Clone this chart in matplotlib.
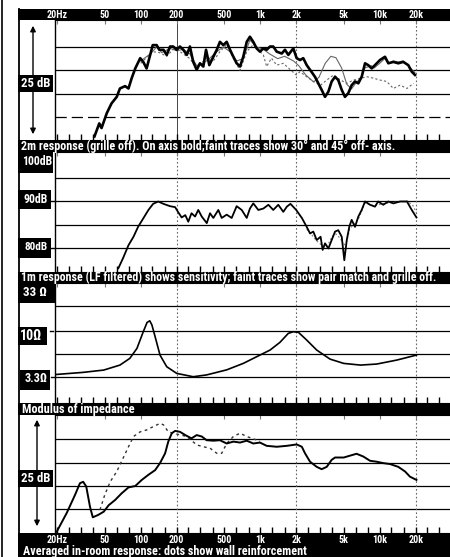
import matplotlib
matplotlib.use("Agg")
import matplotlib.pyplot as plt
from matplotlib.patches import Rectangle, FancyArrowPatch
from matplotlib.lines import Line2D
from matplotlib.ticker import FixedLocator, NullFormatter, NullLocator
import matplotlib.transforms as mtransforms

# ---------------- data ----------------
freq_labels = ['20Hz', '50', '100', '200', '500', '1k', '2k', '5k', '10k', '20k']
freq_label_pos = [20, 50, 100, 200, 500, 1000, 2000, 5000, 10000, 20000]
third_octave = [20, 25, 31.5, 40, 50, 63, 80, 100, 125, 160, 200, 250, 315, 400, 500, 630,
                800, 1000, 1250, 1600, 2000, 2500, 3150, 4000, 5000, 6300, 8000, 10000,
                12500, 16000, 20000, 25000, 31500]

# Panel 1: 2m response, relative dB
p1_on_f = [41, 45, 47, 52, 57, 63, 67, 74, 79, 84, 90, 99, 105, 112, 120, 126, 136, 143, 155, 165,
           176, 187, 200, 213, 227, 243, 258, 275, 294, 313, 334, 352, 375, 405, 433, 460, 491, 524, 559, 596,
           635, 678, 721, 771, 820, 875, 933, 995, 1062, 1132, 1208, 1285, 1374, 1514, 1611, 1718, 1892, 2018, 2152, 2292,
           2449, 2612, 2872, 3062, 3266, 3484, 3716, 3963, 4227, 4498, 4808, 5118, 5458, 5822, 6210, 6622, 7064, 7534, 8018, 8570,
           9120, 10046, 11068, 11804, 13002, 14290, 15740, 17338, 18536, 19726]
p1_on_db = [-19.2, -16.4, -17.4, -14.2, -12.1, -10.7, -8.9, -8.4, -8.9, -6.7, -4.6, -2.4, -3.2, -4.6, -1.7, 0.4, 0.4, -0.6, -0.6, -1.7,
            0.1, 0.1, -0.6, 0.1, -0.6, -1.7, 0.1, -3.2, -4.9, -3.5, -4.2, -0.6, -3.9, -2.1, -0.6, 1.1, 0.4, 1.1, -0.6, -2.1,
            -3.5, -4.2, -2.1, 1.1, 2.2, 1.1, -0.3, -1.0, -0.3, -0.6, 0.1, 0.1, -1.0, -1.4, -0.6, -1.7, -0.3, -2.4, -2.8, -2.4,
            -3.9, -4.9, -6.4, -7.8, -9.2, -10.7, -9.6, -7.4, -6.4, -7.1, -9.2, -10.7, -9.9, -8.2, -7.4, -7.8, -6.4, -3.5, -3.9, -4.6,
            -3.9, -2.8, -2.1, -3.5, -3.2, -3.5, -3.2, -3.9, -5.3, -6.0]
p1_30_f = [100, 120, 136, 150, 176, 200, 227, 258, 294, 334, 375, 433, 491, 559, 635, 721, 820, 933, 1062, 1200,
           1400, 1600, 1900, 2100, 2400, 2800, 3100, 3500, 3900, 4300, 4800, 5300, 5800, 6200, 7000, 7500, 8500, 9000, 10000, 11000,
           12000, 13000, 14300, 15700, 17300, 19700]
p1_30_db = [-3.0, -1.5, 0.0, -1.2, -0.3, -0.8, -0.5, -1.5, -4.0, -3.5, -2.5, -1.0, 0.0, -1.0, -3.0, -2.5, 1.5, 0.0, -0.5, -1.5,
            -2.5, -2.0, -3.0, -4.0, -6.0, -7.5, -6.5, -3.5, -2.0, -2.3, -4.5, -8.0, -9.0, -8.0, -6.5, -4.5, -4.0, -4.5, -3.5, -2.5,
            -3.5, -3.0, -3.2, -3.0, -4.0, -5.5]
p1_45_f = [100, 126, 143, 165, 187, 213, 258, 294, 352, 405, 460, 524, 596, 678, 771, 875, 995, 1062, 1132, 1240,
           1374, 1560, 1790, 2000, 2152, 2449, 2780, 3200, 3600, 4110, 4700, 5300, 6050, 6900, 7850, 8900, 10050, 11450, 13000, 14800,
           16900, 19200]
p1_45_db = [-3.5, -1.0, -1.2, -2.0, -0.5, -1.0, -2.5, -4.5, -2.5, -3.0, -1.0, 0.5, -2.5, -5.0, -1.0, 0.5, -1.0, -1.7, -4.2, -2.4,
            -3.9, -3.5, -4.9, -6.0, -5.3, -6.4, -7.4, -8.2, -7.1, -6.0, -7.1, -7.8, -7.1, -6.7, -6.4, -6.7, -7.1, -7.4, -8.9, -8.2,
            -8.9, -7.8]

# Panel 2: 1m response, dB SPL
p2_f = [65, 71, 79, 87, 95, 105, 116, 127, 140, 155, 176, 194, 205, 220, 236, 250, 266, 285, 303, 324,
        357, 380, 405, 446, 476, 524, 577, 635, 700, 771, 820, 875, 964, 1062, 1170, 1285, 1416, 1560, 1670, 1790,
        2000, 2090, 2230, 2449, 2612, 2780, 2970, 3200, 3330, 3484, 3716, 3963, 4227, 4498, 4808, 5054, 5300, 5560, 5822, 6210,
        6622, 7064, 7534, 8300, 9120, 9700, 10700, 11804, 13000, 14800, 16900, 18536, 20300]
p2_db = [75.7, 77.8, 80.6, 82.4, 84.5, 86.3, 88.1, 89.4, 89.9, 89.4, 88.9, 88.7, 87.7, 86.5, 87.0, 85.6, 87.4, 86.7, 88.1, 86.7,
         85.3, 87.4, 86.4, 88.1, 86.4, 87.1, 86.4, 88.9, 88.1, 86.4, 88.4, 89.5, 88.1, 88.4, 89.2, 88.1, 89.2, 87.7, 88.8, 89.4,
         88.1, 87.4, 86.4, 84.5, 83.1, 83.5, 81.7, 82.4, 79.6, 81.0, 79.9, 81.7, 83.5, 83.8, 82.4, 77.4, 81.7, 84.5, 86.0, 84.5,
         86.7, 88.1, 89.9, 89.2, 88.8, 89.9, 89.2, 89.9, 89.5, 89.9, 89.9, 88.1, 86.5]
p2_faint_f = [2449, 2700, 2970, 3200, 3400, 3700, 4000, 4300, 4700, 5000, 5300, 5600, 6000, 6600, 7500, 9000,
              11000, 14000, 17000, 19000, 20300]
p2_faint_db = [84.0, 82.8, 81.5, 80.8, 80.2, 80.8, 82.5, 83.0, 82.0, 80.5, 81.5, 84.0, 85.0, 86.0, 89.5, 89.0,
               89.5, 89.8, 90.0, 89.0, 87.5]

# Panel 3: impedance modulus, ohms
p3_f = [19.8, 33, 49, 67, 81, 93, 105, 113, 119, 124, 132, 145, 165, 200, 275, 356, 524, 721, 995, 1208,
        1462, 1718, 1892, 2090, 2449, 2970, 3840, 5000, 6900, 9440, 13860, 20300]
p3_z = [3.52, 3.70, 3.91, 4.41, 5.18, 6.59, 9.84, 12.3, 12.8, 11.6, 8.71, 5.61, 4.24, 3.61, 3.33, 3.48, 3.93, 4.59, 5.61, 6.33,
        7.62, 9.46, 9.84, 9.69, 8.05, 6.33, 5.09, 4.59, 4.41, 4.52, 4.97, 5.61]

# Panel 4: averaged in-room response, relative dB
p4_f = [19.8, 24, 28.2, 31, 33, 35, 37.6, 39.7, 44, 49, 54, 61, 69, 79, 90, 102, 116, 132, 145, 160,
        170, 182, 194, 213, 236, 266, 294, 324, 356, 405, 460, 524, 596, 678, 771, 875, 995, 1132, 1374, 1670,
        2018, 2230, 2370, 2612, 2970, 3266, 3600, 3963, 4227, 5000, 5822, 6400, 7300, 8300, 9440, 10700, 12200, 14300, 16300, 17900,
        20300]
p4_db = [-19.8, -15.8, -11.9, -9.4, -9.1, -10.1, -14.4, -16.7, -16.2, -15.5, -14.1, -13.0, -11.6, -10.3, -10.0, -8.7, -7.6, -6.6, -5.1, -3.0,
         -0.5, 1.3, 1.8, 1.6, 0.9, 0.2, 0.9, 0.6, -0.2, -0.3, -0.2, -0.9, -0.5, -0.7, -0.3, -0.9, -0.7, -1.4, -1.6, -1.4,
         -1.1, -1.6, -3.0, -4.8, -5.9, -6.4, -5.9, -4.4, -3.9, -3.9, -3.4, -3.1, -3.7, -4.6, -4.8, -5.1, -5.3, -5.9, -6.9, -8.0,
         -8.7]
p4_wall_f = [45.6, 50, 55.5, 63, 71, 79, 87, 99, 112, 127, 145, 155, 170, 187, 243, 294, 334, 380, 433, 476,
             524, 596, 678, 771, 875, 995]
p4_wall_db = [-15.1, -11.9, -9.1, -6.9, -4.1, -1.6, 0.6, 1.6, 2.0, 2.7, 3.4, 3.1, 1.6, 1.3, 0.6, -1.2, -1.6, -1.9, -3.0, -3.0,
              -0.9, 0.6, 1.3, 0.6, 0.1, -0.4]

captions = ["2m response (grille off). On axis bold;faint traces show 30\u00b0 and 45\u00b0 off- axis.",
            "1m response (LF filtered) shows sensitivity; faint traces show pair match and grille off.",
            "Modulus of impedance",
            "Averaged in-room response: dots show wall reinforcement"]
p1_grid = [0, -5, -10, -15]
p2_grid = [95, 90, 85, 80]
p3_grid = [18.2, 10, 5.75, 3.3]
p4_grid = [0, -5, -10, -15]

# ---------------- layout ----------------
W, H = 450, 557
FAMILY = ['Roboto Condensed', 'Liberation Sans Narrow', 'DejaVu Sans Condensed', 'Roboto', 'DejaVu Sans']
plt.rcParams['font.family'] = FAMILY
fig = plt.figure(figsize=(W / 100, H / 100), dpi=100)
fig.patch.set_facecolor('white')
renderer = fig.canvas.get_renderer()


def fx(x):
    return x / W


def fy(y):
    return 1 - y / H


def rect(x0, y0, x1, y1):
    return [fx(x0), fy(y1), (x1 - x0) / W, (y1 - y0) / H]


def black_box(x0, y0, x1, y1, z=5):
    fig.add_artist(Rectangle((fx(x0), fy(y1)), (x1 - x0) / W, (y1 - y0) / H,
                             transform=fig.transFigure, facecolor='black',
                             edgecolor='none', zorder=z))


def fit(t, width_px):
    for _ in range(2):
        bb = t.get_window_extent(renderer)
        t.set_fontsize(t.get_fontsize() * width_px / bb.width)
    return t


def ftext(x, y, s, size, color='white', ha='left', width=None):
    t = fig.text(fx(x), fy(y), s, fontsize=size, color=color, ha=ha, va='center',
                 fontweight='bold', fontstretch='condensed', zorder=10)
    if width is not None:
        fit(t, width)
    return t


def fline(x0, x1, y, lw=1.0):
    fig.add_artist(Line2D([fx(x0), fx(x1)], [fy(y), fy(y)], transform=fig.transFigure,
                          color='black', lw=lw, zorder=6))


XMIN, XMAX = 19.17, 38730
panel_y = [(20, 140), (152, 272), (283, 403), (415, 533)]
ylims = [(-19.96, 5.79), (74.9, 100.43), (1.77, 31.8), (-20.06, 5.2)]
grids = [p1_grid, p2_grid, p3_grid, p4_grid]
axes = []
for i, (y0, y1) in enumerate(panel_y):
    ax = fig.add_axes(rect(55, y0, 450, y1))
    ax.set_xscale('log')
    if i == 2:
        ax.set_yscale('log')
    ax.set_xlim(XMIN, XMAX)
    ax.set_ylim(*ylims[i])
    ax.yaxis.set_major_locator(NullLocator())
    ax.yaxis.set_minor_locator(NullLocator())
    ax.xaxis.set_major_locator(FixedLocator(third_octave))
    ax.xaxis.set_major_formatter(NullFormatter())
    ax.xaxis.set_minor_locator(FixedLocator(freq_label_pos))
    ax.xaxis.set_minor_formatter(NullFormatter())
    ax.xaxis.remove_overlapping_locs = False
    ax.tick_params(axis='x', which='major', direction='in', length=4, width=1.0,
                   bottom=True, top=False, color='black')
    ax.tick_params(axis='x', which='minor', direction='in', length=3, width=0.8,
                   bottom=False, top=True, color='#777777')
    ax.spines['right'].set_visible(False)
    ax.spines['left'].set_linewidth(1.0)
    for g in grids[i]:
        ls = (0, (9, 4)) if (i == 0 and g == -15) else '-'
        ax.axhline(g, color='black', lw=0.9, ls=ls, zorder=1)
    for v in [200, 2000, 20000]:
        if i == 0 and v == 200:
            ax.axvline(v, color='#444444', lw=0.7, zorder=1)
        else:
            ax.axvline(v, color='#666666', lw=0.8, ls=(0, (1.5, 2)), zorder=1)
    axes.append(ax)

ax1, ax2, ax3, ax4 = axes
ax1.plot(p1_30_f, p1_30_db, color='#666666', lw=0.8, zorder=3)
ax1.plot(p1_45_f, p1_45_db, color='#666666', lw=0.8, ls=(0, (2, 2)), zorder=3)
ax1.plot(p1_on_f, p1_on_db, color='black', lw=1.9, zorder=4)

ax2.plot(p2_faint_f, p2_faint_db, color='#777777', lw=0.8, ls=(0, (1.5, 2)), zorder=3)
ax2.plot(p2_f, p2_db, color='black', lw=1.3, zorder=4)

ax3.plot(p3_f, p3_z, color='black', lw=1.2, zorder=4)

ax4.plot(p4_wall_f, p4_wall_db, color='#333333', lw=1.0, ls=(0, (2, 2.5)), zorder=3)
ax4.plot(p4_f, p4_db, color='black', lw=1.4, zorder=4)

# ---------------- frame decorations ----------------
fig.add_artist(Line2D([fx(1.5), fx(1.5)], [fy(0), fy(557)], transform=fig.transFigure,
                      color='black', lw=1.2))
fig.add_artist(Line2D([fx(18.5), fx(18.5)], [fy(9), fy(557)], transform=fig.transFigure,
                      color='black', lw=1.3))

black_box(18, 9, 450, 20)
black_box(18, 140, 450, 152)
black_box(18, 272, 450, 283)
black_box(18, 403, 450, 415)
black_box(18, 533, 450, 557)

ftext(21, 146.3, captions[0], 7.5, width=376)
ftext(21, 277.6, captions[1], 7.5, width=416)
ftext(22, 409.0, captions[2], 7.5, width=112)
ftext(23, 551, captions[3], 7.5, width=286)

top_tr = mtransforms.blended_transform_factory(ax1.transData, fig.transFigure)
bot_tr = mtransforms.blended_transform_factory(ax4.transData, fig.transFigure)
lab_size = 7.2
for f, lab in zip(freq_label_pos, freq_labels):
    fig.text(f, fy(15), lab, transform=top_tr, fontsize=lab_size, color='white',
             ha='center', va='center', fontweight='bold', fontstretch='condensed', zorder=10)
    fig.text(f, fy(540), lab, transform=bot_tr, fontsize=lab_size, color='white',
             ha='center', va='center', fontweight='bold', fontstretch='condensed', zorder=10)

# arrows in left column
for xa, ya, yb in [(33, 23, 137), (37, 417, 529)]:
    fig.add_artist(FancyArrowPatch((fx(xa), fy(ya)), (fx(xa), fy(yb)),
                                   arrowstyle='<|-|>', mutation_scale=8, lw=1.0,
                                   color='black', transform=fig.transFigure, zorder=4))

# left column labels
black_box(18, 75, 53, 92)
ftext(36, 83.5, '25 dB', 9, ha='center', width=29)
black_box(18, 470, 53, 487)
ftext(36, 478.5, '25 dB', 9, ha='center', width=29)

black_box(18, 152, 53, 173)
ftext(37, 161.5, '100dB', 9, ha='center', width=30)
black_box(18, 190, 51, 209)
ftext(36, 199.5, '90dB', 9, ha='center', width=24)
fline(51, 55, 201)
black_box(18, 238, 51, 258)
ftext(36, 247.5, '80dB', 9, ha='center', width=23)
fline(51, 55, 248)

black_box(18, 283, 55, 303)
ftext(35, 292, '33 \u03a9', 9, ha='center', width=24)
black_box(18, 327, 47, 345)
ftext(31, 336, '10\u03a9', 9, ha='center', width=22)
fline(50, 53, 331)
black_box(20, 370, 50, 390)
ftext(36, 379, '3.3\u03a9', 9, ha='center', width=23)
fline(51, 55, 377)

fig.savefig('out.png', dpi=100, facecolor='white')
